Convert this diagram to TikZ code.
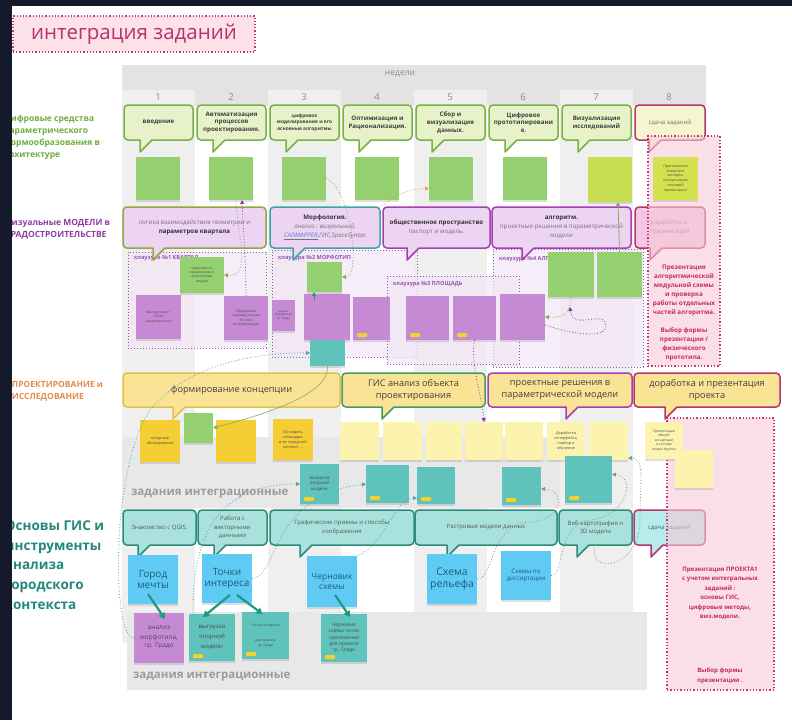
\documentclass[tikz,border=0pt]{standalone}
\usepackage{fontspec}
\setmainfont{Open Sans}
\usetikzlibrary{calc,shadows,arrows.meta}

\definecolor{frame}{HTML}{141A2B}
\definecolor{titlefill}{HTML}{FCE1E8}
\definecolor{titletxt}{HTML}{B8306E}
\definecolor{magdot}{HTML}{C0357A}
\definecolor{bandgray}{HTML}{E3E3E3}
\definecolor{colgray}{HTML}{EFEFEF}
\definecolor{rowgray}{HTML}{E8E8E8}
\definecolor{numgray}{HTML}{8A8A8A}
\definecolor{intgray}{HTML}{9C9C9C}
\definecolor{lblgreen}{HTML}{6DAE3E}
\definecolor{lblpurple}{HTML}{8E3DA0}
\definecolor{lblorange}{HTML}{E58A4C}
\definecolor{lblteal}{HTML}{22897A}
\definecolor{gbfill}{HTML}{E8F2C9}
\definecolor{gbdraw}{HTML}{78B145}
\definecolor{w8fill}{HTML}{F6F5D0}
\definecolor{ngreen}{HTML}{94D06F}
\definecolor{nlime}{HTML}{C9DD52}
\definecolor{nlime2}{HTML}{D3E24E}
\definecolor{pbfill}{HTML}{EED4F3}
\definecolor{pbdraw}{HTML}{A540B4}
\definecolor{olivedraw}{HTML}{93A63E}
\definecolor{tealdraw}{HTML}{3BA3A5}
\definecolor{magdraw}{HTML}{B7336E}
\definecolor{pinkfill}{HTML}{F3C6E4}
\definecolor{npurple}{HTML}{C58AD3}
\definecolor{klz}{HTML}{9A55B0}
\definecolor{klzfill}{HTML}{F2E6F6}
\definecolor{ybfill}{HTML}{FAE394}
\definecolor{ybdraw}{HTML}{DFC24E}
\definecolor{gisdraw}{HTML}{3E9C68}
\definecolor{nyellow}{HTML}{F5CD34}
\definecolor{npale}{HTML}{FBF3AE}
\definecolor{nteal}{HTML}{5FC2BB}
\definecolor{tbfill}{HTML}{A9E1DC}
\definecolor{tbdraw}{HTML}{2F8B79}
\definecolor{cyanfill}{HTML}{B5ECEC}
\definecolor{nblue}{HTML}{5FCAF3}
\definecolor{blutxt}{HTML}{1D5D7E}
\definecolor{pinkbox}{HTML}{F7CAD6}
\definecolor{boxtxt}{HTML}{C42B6C}
\definecolor{tagyel}{HTML}{F5D22B}
\definecolor{arrteal}{HTML}{1E9A84}
\definecolor{lnkgreen}{HTML}{7FAE55}
\definecolor{lnkorange}{HTML}{F29A4E}
\definecolor{lnkteal}{HTML}{4FA6A0}
\definecolor{lnkgray}{HTML}{7F9692}
\definecolor{npurpdark}{HTML}{8E35A5}
\definecolor{linkblue}{HTML}{4A7FD0}

\tikzset{
    every node/.style={inner sep=1pt, outer sep=0pt, align=center, anchor=north west},
    sz/.style 2 args={minimum width=#1, minimum height=#2}
}
\tikzset{
    gbub/.style={draw=gbdraw, fill=gbfill, line width=1.5pt, rounded corners=4pt,
        font=\fontsize{6.2}{7.8}\selectfont\bfseries, text=black!75},
    pbub/.style={draw=pbdraw, fill=pbfill, line width=1.5pt, rounded corners=4pt,
        font=\fontsize{6.2}{9}\selectfont, text=black!55},
    ybub/.style={draw=ybdraw, fill=ybfill, line width=1.5pt, rounded corners=4pt,
        font=\fontsize{9.2}{11.5}\selectfont, text=black!75},
    tbub/.style={draw=tbdraw, fill=tbfill, line width=1.5pt, rounded corners=4pt,
        font=\fontsize{6}{8.5}\selectfont, text=black!65},
    sticky/.style={fill=#1, drop shadow={shadow xshift=0pt, shadow yshift=-1.5pt, opacity=.25},
        font=\fontsize{3.4}{4.3}\selectfont, text=black!70},
    klauz/.style={draw=klz, dotted, line width=1pt, fill=klzfill, fill opacity=.7}
}
\tikzset{
    klabel/.style={anchor=west, font=\fontsize{5.6}{6}\selectfont\bfseries, text=klz},
    link/.style={dotted, line width=.8pt, -{Triangle[length=4pt,width=4pt]}},
    fat/.style={arrteal, line width=2.2pt, -{Triangle[length=6pt,width=7pt]}},
    pinkcol/.style={draw=magdot, dotted, line width=1.3pt, fill=pinkbox, fill opacity=.6},
    pinktxt/.style={anchor=north, font=\fontsize{6.3}{9}\selectfont\bfseries, text=boxtxt},
    lbl/.style={anchor=west, align=left, font=\fontsize{8.5}{12}\selectfont\bfseries},
    bluenote/.style={sticky=nblue, text=blutxt, font=\fontsize{10}{11}\selectfont}
}

% speech-bubble tail under a node: node, x offset, fill, border
\newcommand{\btail}[4]{%
    \fill[#3] ($(#1.south west)+(#2,-2)$) -- ++(0,14) -- ++(14,-14) -- cycle;
    \draw[#4, line width=1.5pt, line join=round, line cap=round]
        ($(#1.south west)+(#2,0)$) -- ++(0,12) -- ++(12,-12);
}
% small yellow tag on a sticky note
\newcommand{\ntag}[1]{%
    \fill[tagyel, rounded corners=1pt] ($(#1.south west)+(4,-7)$) rectangle ++(10,4);
}

\begin{document}
\begin{tikzpicture}[x=1pt,y=-1pt]
	\useasboundingbox (0,0) rectangle (792,720);
	\fill[white] (0,0) rectangle (792,720);

	% weeks grid
	\fill[bandgray] (122,65) rectangle (706,106);
	\foreach \i in {0,2,4,6}
		\fill[colgray] ({122+73*\i},90) rectangle ({195+73*\i},643);
	\fill[rowgray] (122,437) rectangle (560,508);
	\fill[rowgray] (127,612) rectangle (647,690);
	\node[anchor=center, font=\fontsize{8.5}{10}\selectfont, text=numgray] (nedeli) at (400,74) {недели};
	\foreach \i in {1,...,8}
		\node[anchor=center, font=\fontsize{9.5}{10}\selectfont, text=numgray] (wk\i) at ({85+73*\i},97) {\i};

	% title and row labels
	\node[draw=magdot, dotted, line width=1.2pt, fill=titlefill, sz={242}{36},
		font=\fontsize{20.5}{24}\selectfont, text=titletxt] (title) at (13,16) {интеграция заданий};
	\node[lbl, text=lblgreen] (lab1) at (3,137) {Цифровые средства\\параметрического\\формообразования в\\архитектуре};
	\node[lbl, text=lblpurple] (lab2) at (5,229) {Визуальные МОДЕЛИ в\\ГРАДОСТРОИТЕЛЬСТВЕ};
	\node[lbl, text=lblorange] (lab3) at (11,391) {ПРОЕКТИРОВАНИЕ и\\ИССЛЕДОВАНИЕ};
	\node[lbl, text=lblteal, font=\fontsize{13.5}{19.7}\selectfont\bfseries] (lab4) at (4,565)
		{Основы ГИС и\\инструменты\\анализа\\городского\\контекста};

	% clusters
	\node[klauz, sz={150}{118}] (k4) at (493,249) {};
	\node[klauz, sz={145}{107}] (k2) at (272,250) {};
	\node[klauz, sz={138}{96}] (k1) at (128,252) {};
	\node[klauz, sz={132}{88}] (k3) at (387,276) {};
	\node[klabel] at ($(k1.north west)+(5,6)$) {клаузура №1 КВАРТАЛ};
	\node[klabel] at ($(k2.north west)+(5,8)$) {клаузура №2 МОРФОТИП};
	\node[klabel] at ($(k3.north west)+(5,8)$) {клаузура №3 ПЛОЩАДЬ};
	\node[klabel] at ($(k4.north west)+(5,10)$) {клаузура №4 АЛГОРИМ};

	% row 1: week topics
	\node[gbub, sz={69}{35}] (w1) at (124,105) {введение};
	\node[gbub, sz={69}{35}] (w2) at (197,105) {Автоматизация\\процессов\\проектирования.};
	\node[gbub, sz={69}{35}, font=\fontsize{4.8}{6.6}\selectfont\bfseries] (w3) at (270,105)
		{цифровое\\моделирование и его\\основные алгоритмы};
	\node[gbub, sz={69}{35}] (w4) at (343,105) {Оптимизация и\\Рационализация.};
	\node[gbub, sz={69}{35}] (w5) at (416,105) {Сбор и\\визуализация\\данных.};
	\node[gbub, sz={69}{35}] (w6) at (489,105) {Цифровое\\прототипировани\\е.};
	\node[gbub, sz={69}{35}] (w7) at (562,105) {Визуализация\\исследований};
	\node[gbub, sz={70}{35}, draw=magdraw, fill=w8fill, font=\fontsize{6}{7}\selectfont, text=black!55]
		(w8) at (635,105) {сдача заданий};
	\foreach \n in {w1,w2,w3,w4,w5,w6,w7}
		\btail{\n}{16}{gbfill}{gbdraw};
	\btail{w8}{14}{w8fill}{magdraw};
	\node[sticky=ngreen, sz={44}{43}] (g1) at (136,157) {};
	\node[sticky=ngreen, sz={44}{43}] (g2) at (209,157) {};
	\node[sticky=ngreen, sz={44}{43}] (g3) at (282,157) {};
	\node[sticky=ngreen, sz={44}{43}] (g4) at (355,157) {};
	\node[sticky=ngreen, sz={44}{43}] (g5) at (429,157) {};
	\node[sticky=ngreen, sz={44}{43}] (g6) at (503,157) {};
	\node[sticky=nlime, sz={44}{45}] (g7) at (588,157) {};

	% row 2: visual models
	\node[pbub, draw=olivedraw, sz={143}{41}] (vA) at (123,207)
		{логика взаимодействие геометрии и\\\textbf{\color{black!80}параметров квартала}};
	\node[pbub, draw=tealdraw, sz={110}{41}] (vB) at (270,207)
		{\textbf{\color{black!80}Морфология.}\\\textit{анализ : визуальный,}\\\textit{\underline{\textcolor{linkblue}{CADMAPPER}},ГИС,SpaceSyntax}};
	\node[pbub, sz={107}{41}] (vC) at (383,207)
		{\textbf{\color{black!80}общественное пространство}\\паспорт  и модель.};
	\node[pbub, sz={139}{41}] (vD) at (492,207)
		{\textbf{\color{black!80}алгоритм.}\\проектные решения в параметрической\\модели};
	\node[pbub, draw=magdraw, fill=pinkfill, sz={70}{41}, align=left] (vE) at (635,207)
		{доработка и\\презентаций};
	\btail{vA}{30}{pbfill}{olivedraw};
	\btail{vB}{23}{pbfill}{tealdraw};
	\btail{vC}{24}{pbfill}{pbdraw};
	\btail{vD}{30}{pbfill}{pbdraw};
	\btail{vE}{15}{pinkfill}{magdraw};

	\node[sticky=ngreen, sz={44}{36}] (k1g) at (180,257) {зависимость\\параметров от\\архитектуры\\модели};
	\node[sticky=npurple, sz={45}{44}] (k1pa) at (136,295) {Мастер-класс +\\«Grid»\\характеристики};
	\node[sticky=npurple, sz={44}{44}] (k1pb) at (224,296) {обсуждение\\индивидуальных\\3D схем\\интерпретации};
	\node[sticky=npurple, sz={23}{31}, font=\fontsize{3}{3.8}\selectfont] (k2s) at (272,300)
		{анализ\\морфотипа\\гр. Градо};
	\node[sticky=ngreen, sz={35}{30}] (k2g) at (307,262) {};
	\node[sticky=npurple, sz={46}{46}] (k2p) at (304,294) {};
	\node[sticky=npurple, sz={37}{43}] (k2q) at (353,297) {};
	\node[sticky=nteal, sz={35}{26}] (k2t) at (310,340) {};
	\node[sticky=npurple, sz={43}{44}] (k3a) at (406,296) {};
	\node[sticky=npurple, sz={43}{44}] (k3b) at (453,296) {};
	\node[sticky=npurple, sz={45}{46}] (k3c) at (500,294) {};
	\node[sticky=ngreen, sz={46}{45}] (k4g1) at (548,252) {};
	\node[sticky=ngreen, sz={45}{45}] (k4g2) at (597,252) {};
	\ntag{k2q} \ntag{k3a} \ntag{k3b}

	% row 3: design and research
	\node[ybub, sz={217}{34}] (yF) at (123,373) {формирование концепции};
	\node[ybub, draw=gisdraw, sz={143}{34}] (yG) at (342,373) {ГИС анализ объекта\\проектирования};
	\node[ybub, draw=pbdraw, sz={144}{34}] (yH) at (488,373) {проектные решения в\\параметрической модели};
	\node[ybub, draw=magdraw, sz={146}{34}] (yI) at (634,373) {доработка и презентация\\проекта};
	\btail{yF}{50}{ybfill}{ybdraw};
	\btail{yG}{40}{ybfill}{gisdraw};
	\btail{yH}{78}{ybfill}{pbdraw};
	\btail{yI}{31}{ybfill}{magdraw};

	\node[anchor=west, font=\fontsize{11.5}{12}\selectfont\bfseries, text=intgray] (zad1) at (130,494)
		{задания интеграционные};
	\node[sticky=nyellow, sz={40}{42}, font=\fontsize{3.8}{4.8}\selectfont] (y1) at (140,420) {натурные\\обследования};
	\node[sticky=ngreen, sz={29}{30}] (ys) at (184,413) {};
	\node[sticky=nyellow, sz={40}{42}] (y2) at (216,420) {};
	\node[sticky=nyellow, sz={40}{41}, font=\fontsize{3.8}{4.8}\selectfont] (y3) at (273,419)
		{3D модель\\«площади»\\и ее городской\\контекст ...};
	\node[sticky=npale, sz={39}{38}] (P1) at (340,422) {};
	\node[sticky=npale, sz={39}{38}] (P2) at (383,422) {};
	\node[sticky=npale, sz={36}{38}] (P3) at (426,422) {};
	\node[sticky=npale, sz={38}{38}] (P4) at (465,422) {};
	\node[sticky=npale, sz={38}{38}] (P5) at (505,422) {};
	\node[sticky=npale, sz={38}{38}, font=\fontsize{3.8}{4.8}\selectfont] (P6) at (547,422)
		{Доработка\\интерфейса,\\подбор и\\обучение};
	\node[sticky=npale, sz={39}{38}] (P7) at (589,422) {};

	\node[sticky=nteal, sz={39}{40}, font=\fontsize{4.5}{5.6}\selectfont] (T1) at (300,464) {выгрузка\\опорной\\модели};
	\node[sticky=nteal, sz={43}{38}] (T2) at (366,465) {};
	\node[sticky=nteal, sz={38}{37}] (T3) at (417,467) {};
	\node[sticky=nteal, sz={39}{38}] (T4) at (502,467) {};
	\node[sticky=nteal, sz={47}{47}] (T5) at (565,456) {};
	\ntag{T1} \ntag{T2} \ntag{T3} \ntag{T4} \ntag{T5}

	% row 4: GIS basics
	\node[tbub, sz={73}{35}] (J1) at (123,510) {Знакомство с QGIS.};
	\node[tbub, sz={69}{35}] (J2) at (198,510) {Работа с\\векторными\\данными};
	\node[tbub, sz={144}{35}] (J3) at (270,510) {Графические приемы и способы\\изображения};
	\node[tbub, sz={142}{35}] (J4) at (415,510) {Растровые модели данных};
	\node[tbub, sz={73}{35}] (J5) at (559,510) {Веб-картография и\\3D модели};
	\node[tbub, draw=magdraw, fill=cyanfill, sz={71}{35}] (J6) at (634,510) {сдача заданий};
	\btail{J1}{15}{tbfill}{tbdraw};
	\btail{J2}{16}{tbfill}{tbdraw};
	\btail{J3}{30}{tbfill}{tbdraw};
	\btail{J4}{32}{tbfill}{tbdraw};
	\btail{J5}{18}{tbfill}{tbdraw};
	\btail{J6}{17}{cyanfill}{magdraw};

	\node[bluenote, sz={50}{49}] (B1) at (128,555) {Город\\мечты};
	\node[bluenote, sz={50}{49}] (B2) at (202,554) {Точки\\интереса};
	\node[bluenote, sz={50}{51}, font=\fontsize{8.5}{10}\selectfont] (B3) at (307,556) {Черновик\\схемы};
	\node[bluenote, sz={50}{50}, font=\fontsize{10.5}{11.5}\selectfont] (B4) at (427,554) {Схема\\рельефа};
	\node[bluenote, sz={50}{49}, font=\fontsize{6.2}{7.5}\selectfont] (B5) at (501,551) {Схемы по\\диссертации};

	\node[anchor=west, font=\fontsize{11.5}{12}\selectfont\bfseries, text=intgray] (zad2) at (132,677)
		{задания интеграционные};
	\node[sticky=npurple, sz={50}{50}, font=\fontsize{6.5}{9}\selectfont] (N1) at (134,613) {анализ\\морфотипа,\\гр. Градо};
	\node[sticky=nteal, sz={46}{47}, font=\fontsize{6}{10}\selectfont] (N2) at (189,614) {выгрузка\\опорной\\модели};
	\node[sticky=nteal, sz={47}{47}, font=\fontsize{3.4}{5}\selectfont] (N3) at (242,612)
		{«Точки интереса»\\\\\\для проекта\\гр. Градо};
	\node[sticky=nteal, sz={46}{48}, font=\fontsize{5}{6.4}\selectfont] (N4) at (321,614)
		{Черновик\\схемы точки\\притяжения\\для проекта\\гр. Градо};
	\ntag{N2} \ntag{N3} \ntag{N4}

	% thick arrows
	\draw[fat] ($(B1.south)+(-5,-10)$) -- ($(N1.north)+(6,6)$);
	\draw[fat] ($(B2.south)+(3,-8)$) -- ($(N2.north)+(-9,3)$);
	\draw[fat] ($(B2.south)+(10,-8)$) -- ($(N3.north)+(-3,2)$);
	\draw[fat] ($(B3.south)+(3,-12)$) -- ($(N4.north)+(6,3)$);

	% dotted links
	\draw[link, draw=lnkgreen] (g3.east) .. controls (350,185) and (362,277) .. (k2g.east);
	\draw[link, draw=npurpdark] (k1pb.north) .. controls (246,265) and (243,225) .. ($(g2.south)+(11,0)$);
	\draw[link, draw=lnkgreen] ($(g2.south)+(5,0)$) .. controls (238,240) and (252,277) .. (k1g.east);
	\draw[link, draw=lnkorange] (vB.north east) .. controls (392,198) and (405,189) .. ($(g5.west)+(0,10)$);
	\draw[link, draw=lnkteal] (N1.west) .. controls (112,640) and (110,470) .. (150,410)
		.. controls (190,360) and (270,352) .. (k2t.west);
	\draw[-{Triangle[length=4pt,width=4pt]}, arrteal, line width=.8pt]
		($(k2p.north west)+(10,6)$) -- ($(k2g.south west)+(7,0)$);
	\draw[link, draw=lnkgreen, solid, line width=.6pt] (k2t.south) .. controls (330,395) and (262,415) .. (ys.east);
	\draw[link, draw=lnkgreen, solid] (k4g2.north) -- ($(g7.south)+(8,0)$);
	\draw[link, draw=lnkgreen] (k4g1.south) .. controls (570,312) and (566,318) .. (k3c.east);
	\coordinate (kloop) at (570,307);
	\draw[link, draw=npurpdark] ($(k3c.east)+(0,8)$) .. controls (575,335) and (612,340) .. (605,322)
		.. controls (600,312) and (572,330) .. (kloop);
	\draw[link, draw=npurpdark] (k3b.south) .. controls (470,365) and (482,395) .. (P4.north);
	\draw[link, draw=lnkteal] ($(N2.north west)+(4,0)$) .. controls (192,540) and (215,484) .. (T1.west);
	\draw[link, draw=lnkteal] (B2.east) .. controls (278,578) and (270,495) .. (T2.west);
	\draw[link, draw=lnkteal] (B3.north east) .. controls (385,545) and (395,498) .. ($(T3.south west)+(0,-6)$);
	\draw[link, draw=lnkgray] (B4.east) .. controls (495,578) and (488,525) .. (530,522)
		.. controls (565,520) and (565,489) .. ($(T4.east)+(0,3)$);
	\draw[link, draw=lnkgray] (B5.east) .. controls (565,578) and (555,525) .. (590,520)
		.. controls (630,515) and (635,475) .. ($(T5.east)+(0,-5)$);
	\draw[link, draw=lnkgray] (J5.south) .. controls (585,575) and (640,570) .. (640,520)
		.. controls (640,480) and (645,458) .. ($(P7.south east)+(0,-2)$);

	% hand-in columns
	\node[pinkcol, sz={72}{230}] (pk1) at (648,136) {};
	\node[pinkcol, sz={107}{272}] (pk2) at (667,418) {};
	\node[sticky=nlime2, sz={45}{43}, font=\fontsize{3.6}{4.8}\selectfont] (g8) at (653,157)
		{Приглашение\\внешнего\\эксперта.\\Консультация\\итоговой\\презентации};
	\node[sticky=npale, sz={38}{37}, font=\fontsize{3.4}{4.6}\selectfont] (P8) at (645,422)
		{Презентация\\общей\\концепции\\в составе\\микро-группы};
	\node[sticky=npale, sz={38}{38}] (P9) at (675,450) {};
	\node[pinktxt] (pt1) at (684,264) {Презентация\\алгоритмической\\модульной схемы\\и проверка\\работы отдельных\\частей алгоритма.\\[9pt]Выбор формы\\презентации /\\физического\\прототипа.};
	\node[pinktxt, font=\fontsize{6.1}{9.4}\selectfont\bfseries] (pt2) at (720,566)
		{Презентация ПРОЕКТА1\\с учетом интегральных\\заданий :\\основы ГИС,\\цифровые методы,\\виз.модели.};
	\node[pinktxt, font=\fontsize{6.1}{9.4}\selectfont\bfseries] (pt3) at (720,667) {Выбор формы\\презентации .};

	% dark frame
	\fill[frame] (0,0) rectangle (12,720);
	\fill[frame] (0,0) rectangle (792,6);
\end{tikzpicture}
\end{document}
